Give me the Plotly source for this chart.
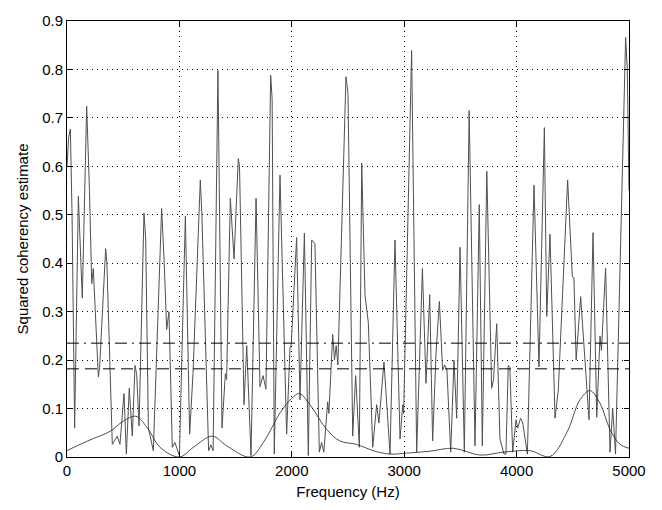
import plotly.graph_objects as go

# Squared coherency estimate (jagged curve)
coh_freq = [0, 15, 30, 45, 68, 101, 136, 175, 200, 220, 234, 260, 279, 290, 344, 355, 403, 447, 471, 507,
            528, 554, 581, 605, 620, 641, 685, 700, 724, 768, 842, 865, 887, 907, 937, 960, 975, 1000,
            1053, 1070, 1091, 1121, 1186, 1200, 1260, 1280, 1300, 1343, 1379, 1409, 1420, 1453, 1486,
            1524, 1535, 1575, 1599, 1637, 1682, 1717, 1744, 1770, 1812, 1825, 1844, 1895, 1954, 1984,
            1995, 2043, 2073, 2112, 2147, 2177, 2206, 2245, 2265, 2285, 2319, 2330, 2364, 2380, 2395,
            2410, 2482, 2500, 2542, 2568, 2601, 2622, 2651, 2681, 2720, 2755, 2775, 2820, 2874, 2918,
            2963, 2987, 2995, 3066, 3111, 3162, 3194, 3227, 3253, 3283, 3313, 3342, 3360, 3380, 3414,
            3443, 3467, 3497, 3535, 3578, 3630, 3668, 3695, 3735, 3778, 3795, 3823, 3852, 3888, 3905,
            3926, 3940, 3965, 3995, 4010, 4035, 4055, 4096, 4155, 4175, 4199, 4247, 4268, 4297, 4342,
            4371, 4454, 4496, 4510, 4530, 4570, 4617, 4644, 4680, 4713, 4742, 4755, 4792, 4831, 4855,
            4880, 4970, 4985, 5000]
coh_vals = [0.60, 0.66, 0.677, 0.50, 0.06, 0.538, 0.328, 0.724, 0.55, 0.358, 0.389, 0.25, 0.165, 0.185,
            0.43, 0.40, 0.026, 0.043, 0.026, 0.131, 0.006, 0.142, 0.043, 0.189, 0.17, 0.064, 0.504, 0.45,
            0.06, 0.013, 0.513, 0.40, 0.263, 0.30, 0.02, 0.03, 0.02, 0.003, 0.497, 0.30, 0.047, 0.172,
            0.572, 0.50, 0.013, 0.025, 0.013, 0.798, 0.06, 0.172, 0.16, 0.534, 0.409, 0.616, 0.60, 0.108,
            0.23, 0.003, 0.534, 0.145, 0.168, 0.14, 0.788, 0.74, 0.006, 0.582, 0.047, 0.226, 0.232, 0.453,
            0.118, 0.462, 0.003, 0.448, 0.44, 0.01, 0.03, 0.01, 0.114, 0.09, 0.253, 0.20, 0.23, 0.19,
            0.785, 0.75, 0.043, 0.168, 0.02, 0.607, 0.335, 0.277, 0.02, 0.108, 0.07, 0.196, 0.006, 0.448,
            0.037, 0.108, 0.09, 0.839, 0.01, 0.389, 0.152, 0.335, 0.033, 0.213, 0.321, 0.179, 0.19, 0.18,
            0.01, 0.2, 0.08, 0.433, 0.01, 0.715, 0.023, 0.521, 0.023, 0.59, 0.142, 0.16, 0.275, 0.037,
            0.006, 0.006, 0.189, 0.185, 0.01, 0.077, 0.06, 0.08, 0.07, 0.006, 0.561, 0.39, 0.186, 0.68,
            0.29, 0.46, 0.08, 0.138, 0.572, 0.372, 0.37, 0.2, 0.331, 0.17, 0.077, 0.463, 0.082, 0.25,
            0.22, 0.39, 0.01, 0.1, 0.006, 0.866, 0.80, 0.55]

# Smooth reference curve
ref_freq = [0, 116, 234, 383, 501, 614, 724, 827, 1000, 1124, 1293, 1421, 1630, 1747, 1895, 1999, 2067,
            2162, 2310, 2429, 2577, 2725, 2874, 3022, 3230, 3437, 3675, 3882, 4119, 4297, 4446, 4564,
            4653, 4742, 4831, 4920, 5000]
ref_vals = [0.013, 0.026, 0.038, 0.053, 0.074, 0.084, 0.057, 0.02, 0.0, 0.02, 0.043, 0.023, 0.0, 0.03,
            0.091, 0.121, 0.131, 0.108, 0.057, 0.033, 0.026, 0.013, 0.006, 0.008, 0.012, 0.018, 0.004,
            0.01, 0.013, 0.001, 0.05, 0.118, 0.137, 0.111, 0.057, 0.026, 0.018]

# Significance thresholds
thresholds = [0.235, 0.182]
threshold_dash = ["12px,5px,2px,5px", "12px,6px"]
x_span = [0, 5000]

x_ticks = [0, 1000, 2000, 3000, 4000, 5000]
y_ticks = [0, 0.1, 0.2, 0.3, 0.4, 0.5, 0.6, 0.7, 0.8, 0.9]
y_tick_labels = ["0", "0.1", "0.2", "0.3", "0.4", "0.5", "0.6", "0.7", "0.8", "0.9"]

FONT = "Liberation Sans, Arial, sans-serif"

fig = go.Figure()
fig.add_trace(go.Scatter(x=coh_freq, y=coh_vals, mode="lines",
                         line=dict(color="#505050", width=1), showlegend=False))
fig.add_trace(go.Scatter(x=ref_freq, y=ref_vals, mode="lines",
                         line=dict(color="#222222", width=0.8, shape="spline", smoothing=1.0),
                         showlegend=False))
for t, d in zip(thresholds, threshold_dash):
    fig.add_trace(go.Scatter(x=x_span, y=[t, t], mode="lines",
                             line=dict(color="black", width=1, dash=d), showlegend=False))

axis_common = dict(
    showline=True, linecolor="black", linewidth=1, mirror="ticks",
    ticks="inside", ticklen=5, tickcolor="black",
    showgrid=True, gridcolor="black", gridwidth=1, griddash="1px,4px",
    zeroline=False,
    tickfont=dict(family=FONT, size=15, color="black"),
)

fig.update_xaxes(range=[0, 5000], tickvals=x_ticks, ticktext=[str(v) for v in x_ticks],
                 title=dict(text="Frequency (Hz)", standoff=8,
                            font=dict(family=FONT, size=15, color="black")),
                 **axis_common)
fig.update_yaxes(range=[0, 0.9], tickvals=y_ticks, ticktext=y_tick_labels,
                 title=dict(text="Squared coherency estimate", standoff=9,
                            font=dict(family=FONT, size=15, color="black")),
                 **axis_common)

fig.update_layout(
    width=662, height=510,
    margin=dict(l=67, r=33, t=15, b=52),
    paper_bgcolor="white", plot_bgcolor="white",
)

fig.write_html("out.html", config={"displayModeBar": False},
               post_script="document.body.style.margin='0';")
